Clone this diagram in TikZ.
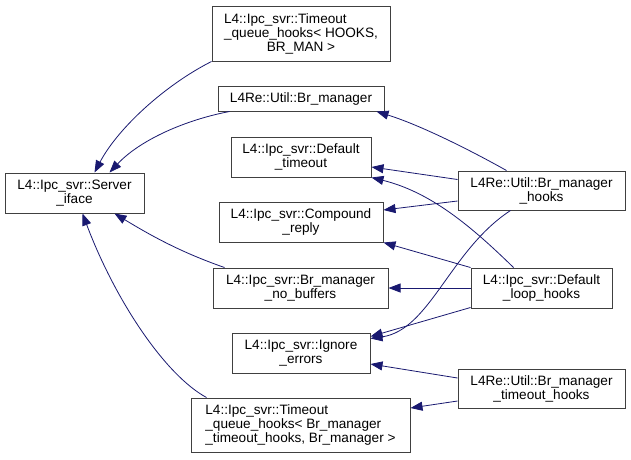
\documentclass[tikz,border=0pt]{standalone}
\usepackage{fontspec}
\setmainfont{Liberation Sans}
\usepackage{calc}
\usetikzlibrary{arrows.meta}
\definecolor{edgeblue}{HTML}{191970}
\newcommand\lftln[2]{\makebox[\widthof{#2}][l]{#1}}
\tikzset{
  cls/.style={draw=black!75, line width=1pt, fill=white, inner sep=0pt, align=center,
    font=\fontsize{13.6}{14}\selectfont},
  inh/.style={draw=edgeblue, line width=0.8pt, -{Triangle[length=12pt,width=9pt]}}
}
\begin{document}
\begin{tikzpicture}[x=1pt,y=-1pt]
\useasboundingbox[fill=white] (0,0) rectangle (631,459);
% nodes
\node[cls, minimum width=139, minimum height=40] (srv) at (74.5,193) {L4::Ipc\_svr::Server\\\_iface};
\node[cls, minimum width=178, minimum height=55] (tqh1) at (301,33.5) {\lftln{L4::Ipc\_svr::Timeout}{\_queue\_hooks< HOOKS,}\\\_queue\_hooks< HOOKS,\\BR\_MAN >};
\node[cls, minimum width=166, minimum height=25] (brm) at (301,98.5) {L4Re::Util::Br\_manager};
\node[cls, minimum width=140, minimum height=40] (dto) at (301,157) {L4::Ipc\_svr::Default\\\_timeout};
\node[cls, minimum width=164, minimum height=40] (cmp) at (301,222) {L4::Ipc\_svr::Compound\\\_reply};
\node[cls, minimum width=175, minimum height=40] (bnb) at (300.5,288) {L4::Ipc\_svr::Br\_manager\\\_no\_buffers};
\node[cls, minimum width=138, minimum height=40] (ign) at (301,353) {L4::Ipc\_svr::Ignore\\\_errors};
\node[cls, align=left, minimum width=219, minimum height=54] (tqh2) at (300.5,425) {L4::Ipc\_svr::Timeout\\\_queue\_hooks< Br\_manager\\\_timeout\_hooks, Br\_manager >};
\node[cls, minimum width=167, minimum height=39] (bmh) at (541.5,190.5) {L4Re::Util::Br\_manager\\\_hooks};
\node[cls, minimum width=141, minimum height=40] (dlh) at (541.5,288) {L4::Ipc\_svr::Default\\\_loop\_hooks};
\node[cls, minimum width=167, minimum height=39] (bmth) at (541.5,388.5) {L4Re::Util::Br\_manager\\\_timeout\_hooks};
% edges to Server_iface
\draw[inh] (tqh1.south west) .. controls (165,85) and (118,128) .. ([xshift=20]srv.north);
\draw[inh] ([xshift=12]brm.south west) .. controls (185,120) and (140,140) .. ([xshift=35]srv.north);
\draw[inh] ([xshift=12]bnb.north west) .. controls (180,252) and (150,235) .. ([xshift=40]srv.south);
\draw[inh] ([xshift=16]tqh2.north west) .. controls (165,375) and (115,300) .. ([xshift=8]srv.south);
% right-side edges
\draw[inh] ([xshift=-35]bmh.north) .. controls (470,150) and (420,125) .. ([xshift=-8]brm.south east);
\draw[inh] ([yshift=-9]bmh.north west) -- ([yshift=-10]dto.east);
\draw[inh] ([yshift=-10.5]bmh.west) -- ([yshift=12]cmp.east);
\draw[inh] ([xshift=-31]bmh.south) .. controls (450,250) and (430,330) .. ([yshift=-6]ign.north east);
\draw[inh] ([xshift=-28]dlh.north) .. controls (470,225) and (430,192) .. (dto.south east);
\draw[inh] (dlh.north west) -- (cmp.south east);
\draw[inh] (dlh.west) -- (bnb.east);
\draw[inh] ([yshift=1]dlh.south west) -- ([yshift=-4]ign.north east);
\draw[inh] ([yshift=10.5]bmth.west) -- ([yshift=-11]ign.east);
\draw[inh] ([yshift=-12.5]bmth.west) -- ([yshift=17]tqh2.east);
\end{tikzpicture}
\end{document}
